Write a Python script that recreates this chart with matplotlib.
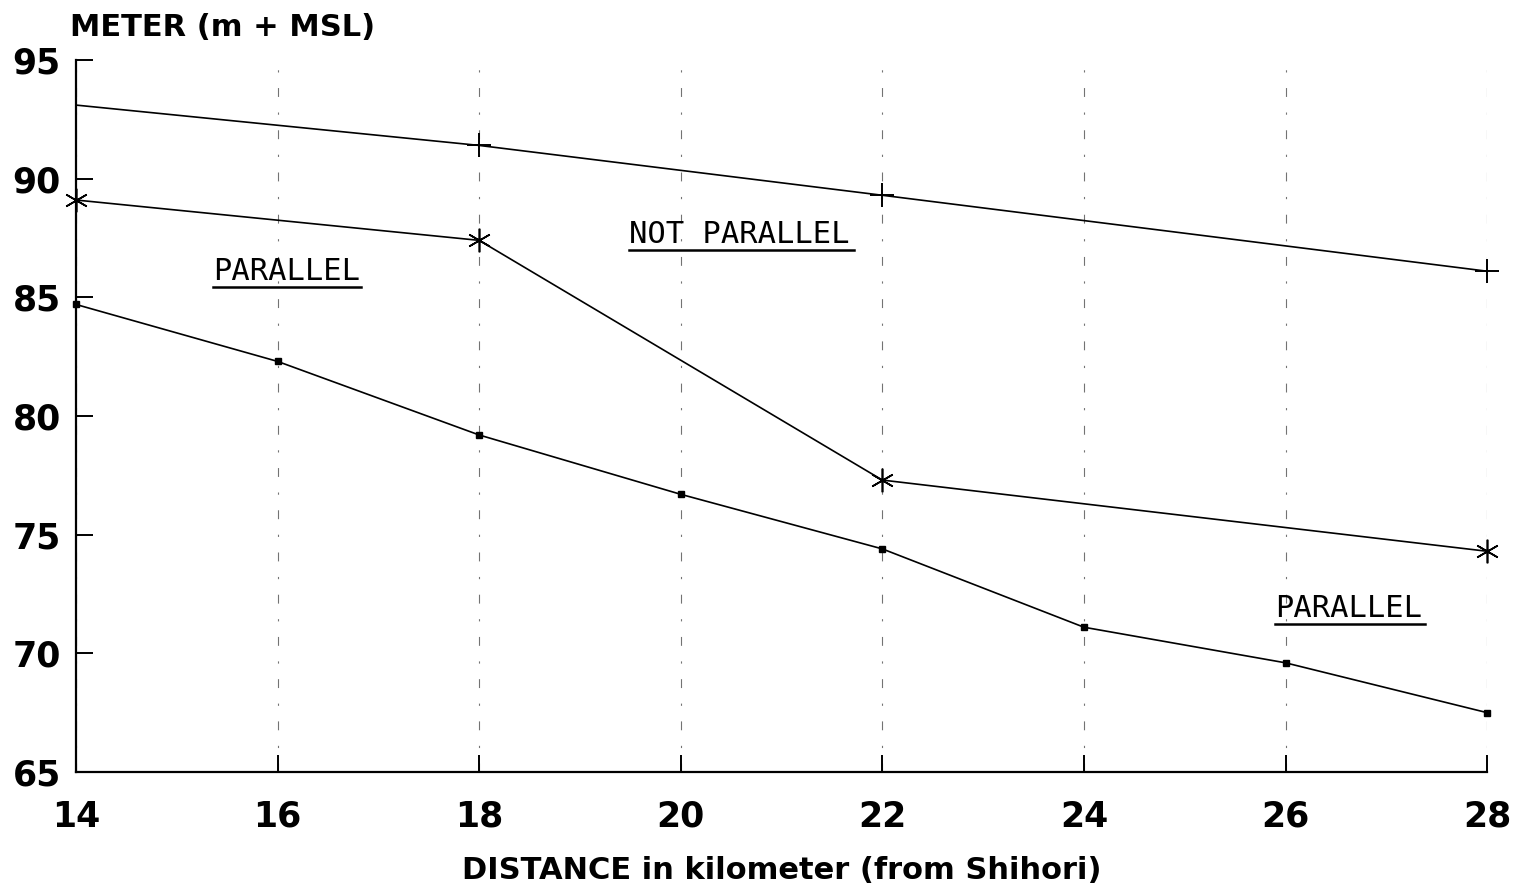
import matplotlib.pyplot as plt

# distance from Shihori (km) and elevations (m + MSL)
x_top = [14, 18, 22, 28]
y_top = [93.1, 91.4, 89.3, 86.1]

x_mid = [14, 18, 22, 28]
y_mid = [89.1, 87.4, 77.3, 74.3]

x_bot = [14, 16, 18, 20, 22, 24, 26, 28]
y_bot = [84.7, 82.3, 79.2, 76.7, 74.4, 71.1, 69.6, 67.5]

x_ticks = [14, 16, 18, 20, 22, 24, 26, 28]
y_ticks = [65, 70, 75, 80, 85, 90, 95]

# labels: (text, x_left, x_right, y_baseline)
notes = [("PARALLEL", 15.36, 16.83, 85.75),
         ("NOT PARALLEL", 19.49, 21.72, 87.3),
         ("PARALLEL", 25.9, 27.38, 71.55)]

fig = plt.figure(figsize=(15.19, 8.9), dpi=100)
ax = fig.add_axes([0.05, 0.1326, 0.929, 0.80])

ax.plot(x_top, y_top, color='black', lw=1.2)
ax.plot(x_top[1:], y_top[1:], ls='none', marker='+', ms=17, mew=1.4,
        color='black', clip_on=False)
ax.plot(x_mid, y_mid, color='black', lw=1.2, marker=(6, 2, 0), ms=17, mew=1.2,
        clip_on=False)
ax.plot(x_bot, y_bot, color='black', lw=1.2, marker='s', ms=4.5, clip_on=False)

ax.set_xlim(14, 28)
ax.set_ylim(65, 95)
ax.set_xticks(x_ticks)
ax.set_yticks(y_ticks)
ax.grid(axis='x', color='0.45', lw=0.8, linestyle=(0, (8, 14, 2, 14)))

for side in ['top', 'right']:
    ax.spines[side].set_visible(False)
for side in ['left', 'bottom']:
    ax.spines[side].set_linewidth(1.6)

ax.tick_params(direction='in', length=12, width=1.4, labelsize=25)
ax.tick_params(axis='x', pad=20)
ax.tick_params(axis='y', pad=11)
for lab in ax.get_xticklabels() + ax.get_yticklabels():
    lab.set_fontweight('bold')

for txt, x0, x1, yb in notes:
    ax.text(x0, yb, txt, fontsize=22, family='DejaVu Sans Mono',
            ha='left', va='baseline')
    ax.plot([x0, x1], [yb - 0.3, yb - 0.3], color='black', lw=1.8)

fig.text(0.046, 0.96, "METER (m + MSL)", fontsize=22, fontweight='bold',
         ha='left', va='baseline')
ax.set_xlabel("DISTANCE in kilometer (from Shihori)", fontsize=22,
              fontweight='bold', labelpad=16)

fig.savefig("out.png", dpi=100)
